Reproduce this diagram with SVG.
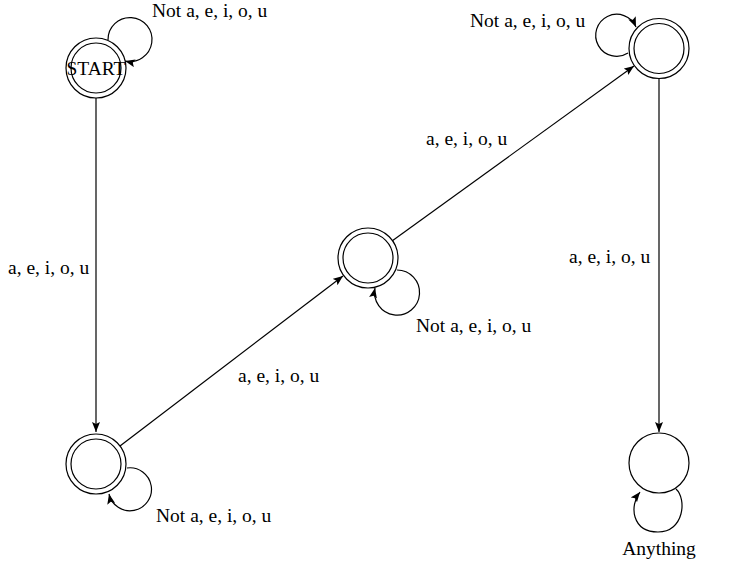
<svg xmlns="http://www.w3.org/2000/svg" width="738" height="567" viewBox="0 0 738 567">
<style>
.st{fill:#fff;stroke:#000;stroke-width:1.2}
.in{fill:none;stroke:#000;stroke-width:1.2}
.e{fill:none;stroke:#000;stroke-width:1.2}
text{font-family:"Liberation Serif","Times New Roman",serif;font-size:19.5px;fill:#000}
</style>
<defs>
<marker id="arr" markerUnits="userSpaceOnUse" markerWidth="12" markerHeight="10" refX="10" refY="4" orient="auto">
<path d="M0,0 L10,4 L0,8 L2,4 Z" fill="#000"/>
</marker>
</defs>
<rect width="738" height="567" fill="#fff"/>
<g id="connectors">
<path class="e" d="M96 98 L96 432" marker-end="url(#arr)"/>
<path class="e" d="M120 446 L343 276" marker-end="url(#arr)"/>
<path class="e" d="M392 241 L634 66" marker-end="url(#arr)"/>
<path class="e" d="M659 79 L659 432" marker-end="url(#arr)"/>
<path class="e" d="M108 40 A22 22 0 1 1 125 61" marker-end="url(#arr)"/>
<path class="e" d="M628 53 A21 21 0 1 1 636 27" marker-end="url(#arr)"/>
<path class="e" d="M397 270 A22.5 22.5 0 1 1 375 288" marker-end="url(#arr)"/>
<path class="e" d="M127 468 A21.5 21.5 0 1 1 109 494" marker-end="url(#arr)"/>
<path class="e" d="M676 489 C687 499, 684 532, 658 532 C632 532, 629 506, 640 492" marker-end="url(#arr)"/>
<text x="8" y="274">a, e, i, o, u</text>
<text x="238" y="382">a, e, i, o, u</text>
<text x="426" y="145">a, e, i, o, u</text>
<text x="569" y="263">a, e, i, o, u</text>
<text x="152" y="17">Not a, e, i, o, u</text>
<text x="470" y="27">Not a, e, i, o, u</text>
<text x="416" y="332">Not a, e, i, o, u</text>
<text x="156" y="522">Not a, e, i, o, u</text>
<text x="659" y="555" text-anchor="middle">Anything</text>
</g>
<g id="start">
<circle class="st" cx="96" cy="68" r="30"/>
<circle class="in" cx="96" cy="68" r="25"/>
<text x="96" y="75" text-anchor="middle">START</text>
</g>
<g id="q1">
<circle class="st" cx="96" cy="464" r="30"/>
<circle class="in" cx="96" cy="464" r="25"/>
</g>
<g id="q2">
<circle class="st" cx="368" cy="258" r="30"/>
<circle class="in" cx="368" cy="258" r="25"/>
</g>
<g id="q3">
<circle class="st" cx="659" cy="48.5" r="30"/>
<circle class="in" cx="659" cy="48.5" r="25"/>
</g>
<g id="trap">
<circle class="st" cx="659" cy="463" r="30"/>
</g>
</svg>
